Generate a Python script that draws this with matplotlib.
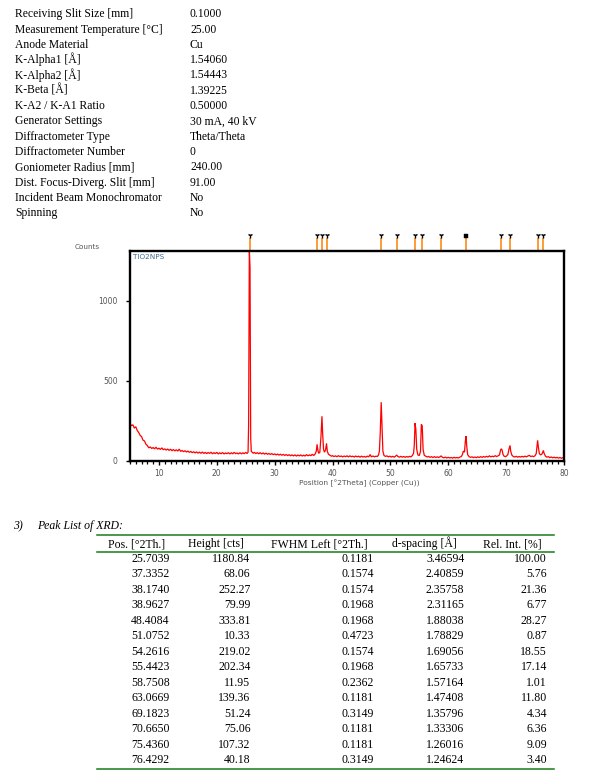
import matplotlib
matplotlib.use('Agg')
import matplotlib.pyplot as plt
from matplotlib.lines import Line2D
import matplotlib.transforms as mtransforms
from matplotlib.ticker import MultipleLocator

# ---------------- data ----------------
param_names = ["Receiving Slit Size [mm]", "Measurement Temperature [°C]", "Anode Material",
               "K-Alpha1 [Å]", "K-Alpha2 [Å]", "K-Beta [Å]", "K-A2 / K-A1 Ratio",
               "Generator Settings", "Diffractometer Type", "Diffractometer Number",
               "Goniometer Radius [mm]", "Dist. Focus-Diverg. Slit [mm]",
               "Incident Beam Monochromator", "Spinning"]
param_values = ["0.1000", "25.00", "Cu", "1.54060", "1.54443", "1.39225", "0.50000",
                "30 mA, 40 kV", "Theta/Theta", "0", "240.00", "91.00", "No", "No"]

table_headers = ["Pos. [°2Th.]", "Height [cts]", "FWHM Left [°2Th.]", "d-spacing [Å]", "Rel. Int. [%]"]
peak_pos = [25.7039, 37.3352, 38.1740, 38.9627, 48.4084, 51.0752, 54.2616, 55.4423,
            58.7508, 63.0669, 69.1823, 70.6650, 75.4360, 76.4292]
peak_height = [1180.84, 68.06, 252.27, 79.99, 333.81, 10.33, 219.02, 202.34,
               11.95, 139.36, 51.24, 75.06, 107.32, 40.18]
peak_fwhm = [0.1181, 0.1574, 0.1574, 0.1968, 0.1968, 0.4723, 0.1574, 0.1968,
             0.2362, 0.1181, 0.3149, 0.1181, 0.1181, 0.3149]
peak_d = [3.46594, 2.40859, 2.35758, 2.31165, 1.88038, 1.78829, 1.69056, 1.65733,
          1.57164, 1.47408, 1.35796, 1.33306, 1.26016, 1.24624]
peak_rel = [100.00, 5.76, 21.36, 6.77, 28.27, 0.87, 18.55, 17.14,
            1.01, 11.80, 4.34, 6.36, 9.09, 3.40]

scan_5_25 = [(5.00, 234), (5.25, 220), (5.50, 226), (5.75, 205), (6.00, 214), (6.25, 190),
             (6.50, 178), (6.75, 160), (7.00, 152), (7.25, 130), (7.50, 125), (7.75, 105),
             (8.00, 96), (8.25, 82), (8.50, 88), (8.75, 78), (9.00, 84), (9.25, 76),
             (9.50, 86), (9.75, 74), (10.00, 80), (10.25, 72), (10.50, 82), (10.75, 70),
             (11.00, 76), (11.25, 68), (11.50, 75), (11.75, 66), (12.00, 74), (12.25, 64),
             (12.50, 72), (12.75, 63), (13.00, 70), (13.25, 62), (13.50, 74), (13.75, 60),
             (14.00, 66), (14.25, 58), (14.50, 64), (14.75, 56), (15.00, 62), (15.25, 54),
             (15.50, 60), (15.75, 52), (16.00, 58), (16.25, 50), (16.50, 57), (16.75, 49),
             (17.00, 55), (17.25, 48), (17.50, 56), (17.75, 47), (18.00, 54), (18.25, 46),
             (18.50, 53), (18.75, 47), (19.00, 55), (19.25, 45), (19.50, 52), (19.75, 46),
             (20.00, 54), (20.25, 44), (20.50, 51), (20.75, 45), (21.00, 53), (21.25, 44),
             (21.50, 50), (21.75, 46), (22.00, 52), (22.25, 44), (22.50, 51), (22.75, 45),
             (23.00, 54), (23.25, 46), (23.50, 50), (23.75, 44), (24.00, 52), (24.25, 45),
             (24.50, 51), (24.75, 46), (25.00, 53), (25.25, 47)]
scan_25_40 = [(25.40, 55), (25.50, 225), (25.62, 1320), (25.74, 1210), (25.86, 140),
              (25.96, 60), (26.10, 55), (26.30, 48), (26.50, 54), (26.75, 46), (27.00, 52),
              (27.25, 45), (27.50, 52), (27.75, 44), (28.00, 50), (28.25, 43), (28.50, 49),
              (28.75, 42), (29.00, 47), (29.25, 41), (29.50, 46), (29.75, 40), (30.00, 44),
              (30.25, 38), (30.50, 43), (30.75, 37), (31.00, 42), (31.25, 36), (31.50, 41),
              (31.75, 35), (32.00, 40), (32.25, 34), (32.50, 39), (32.75, 33), (33.00, 38),
              (33.25, 32), (33.50, 38), (33.75, 31), (34.00, 37), (34.25, 32), (34.50, 38),
              (34.75, 31), (35.00, 36), (35.25, 31), (35.50, 40), (35.75, 32), (36.00, 38),
              (36.25, 33), (36.50, 42), (36.75, 34), (37.00, 44), (37.20, 62), (37.33, 104),
              (37.45, 70), (37.60, 48), (37.80, 54), (38.00, 150), (38.17, 279), (38.30, 166),
              (38.45, 72), (38.60, 55), (38.80, 70), (38.96, 110), (39.10, 60), (39.30, 42),
              (39.55, 36), (39.80, 30)]
scan_40_60 = [(40.00, 33), (40.25, 28), (40.50, 32), (40.75, 27), (41.00, 33), (41.25, 28),
              (41.50, 31), (41.75, 26), (42.00, 31), (42.25, 27), (42.50, 32), (42.75, 26),
              (43.00, 32), (43.25, 27), (43.50, 30), (43.75, 25), (44.00, 31), (44.25, 26),
              (44.50, 30), (44.75, 24), (45.00, 30), (45.25, 25), (45.50, 28), (45.75, 24),
              (46.00, 30), (46.25, 26), (46.50, 40), (46.70, 26), (47.00, 31), (47.25, 26),
              (47.50, 30), (47.75, 28), (47.95, 38), (48.10, 62), (48.25, 181), (48.41, 367),
              (48.55, 223), (48.70, 62), (48.90, 34), (49.15, 29), (49.40, 32), (49.65, 26),
              (49.90, 30), (50.15, 25), (50.40, 29), (50.65, 24), (50.90, 30), (51.07, 37),
              (51.30, 28), (51.55, 24), (51.80, 29), (52.05, 24), (52.30, 28), (52.55, 23),
              (52.80, 28), (53.05, 24), (53.30, 29), (53.55, 26), (53.80, 34), (54.00, 48),
              (54.12, 95), (54.26, 236), (54.40, 197), (54.55, 72), (54.75, 38), (55.00, 34),
              (55.20, 60), (55.35, 229), (55.50, 219), (55.65, 72), (55.85, 36), (56.10, 30),
              (56.35, 25), (56.60, 28), (56.85, 23), (57.10, 27), (57.35, 22), (57.60, 27),
              (57.85, 22), (58.10, 26), (58.35, 22), (58.60, 27), (58.75, 32), (59.00, 23),
              (59.25, 20), (59.50, 24), (59.75, 19)]
scan_60_80 = [(60.00, 23), (60.25, 19), (60.50, 22), (60.75, 18), (61.00, 23), (61.25, 19),
              (61.50, 22), (61.75, 19), (62.00, 24), (62.25, 28), (62.45, 40), (62.60, 62),
              (62.80, 55), (62.95, 123), (63.07, 155), (63.20, 90), (63.35, 40), (63.60, 27),
              (63.85, 23), (64.10, 26), (64.35, 21), (64.60, 25), (64.85, 21), (65.10, 26),
              (65.35, 22), (65.60, 27), (65.85, 23), (66.10, 28), (66.35, 24), (66.60, 29),
              (66.85, 25), (67.10, 32), (67.35, 26), (67.60, 30), (67.85, 27), (68.10, 33),
              (68.35, 28), (68.60, 32), (68.85, 38), (69.05, 70), (69.18, 76), (69.32, 66),
              (69.45, 42), (69.65, 30), (69.90, 27), (70.10, 32), (70.30, 40), (70.50, 76),
              (70.67, 97), (70.80, 60), (71.00, 36), (71.25, 28), (71.50, 25), (71.75, 29),
              (72.00, 24), (72.25, 28), (72.50, 25), (72.75, 29), (73.00, 25), (73.25, 30),
              (73.50, 26), (73.75, 31), (74.00, 35), (74.25, 28), (74.50, 31), (74.75, 27),
              (75.00, 33), (75.20, 46), (75.35, 95), (75.44, 129), (75.58, 83), (75.75, 46),
              (75.95, 38), (76.15, 42), (76.30, 52), (76.43, 66), (76.58, 46), (76.80, 30),
              (77.05, 24), (77.30, 27), (77.55, 21), (77.80, 25), (78.05, 20), (78.30, 24),
              (78.55, 19), (78.80, 23), (79.05, 18), (79.30, 22), (79.55, 17), (79.80, 21),
              (80.00, 19)]

# ---------------- figure ----------------
W, H = 609, 780
fig = plt.figure(figsize=(W / 100, H / 100), dpi=100)
fig.patch.set_facecolor('white')


def fx(px):
    return px / W


def fy(py):
    return 1 - py / H


SERIF = ['Liberation Serif', 'DejaVu Serif']

# parameter block
for i, (name, val) in enumerate(zip(param_names, param_values)):
    yb = 13.3 + 15.3 * i + 4.0
    fig.text(fx(15), fy(yb), name, fontsize=8.4, family=SERIF, va='baseline', ha='left')
    fig.text(fx(190), fy(yb), val, fontsize=8.4, family=SERIF, va='baseline', ha='left')

# ---------------- chart ----------------
ax = fig.add_axes([fx(130), fy(461), (564 - 130) / W, (461 - 251) / H])
scan = scan_5_25 + scan_25_40 + scan_40_60 + scan_60_80
tt = [p[0] for p in scan]
cc = [p[1] for p in scan]
ax.plot(tt, cc, color='#ff0000', lw=0.9, solid_joinstyle='miter')
ax.set_xlim(5, 80)
ax.set_ylim(0, 1310)

for s in ax.spines.values():
    s.set_linewidth(1.7)
    s.set_color('black')

ax.xaxis.set_major_locator(MultipleLocator(10))
ax.xaxis.set_minor_locator(MultipleLocator(1))
ax.set_yticks([0, 500, 1000])
ax.tick_params(axis='both', which='major', direction='out', length=3.0, width=1.0,
               colors='black', labelcolor='#555555', labelsize=5.5)
ax.tick_params(axis='x', which='minor', direction='out', length=2.2, width=0.9, color='black')
ax.tick_params(axis='x', which='major', pad=3)
ax.tick_params(axis='y', which='major', pad=6)
for lab in ax.get_xticklabels() + ax.get_yticklabels():
    lab.set_family('DejaVu Sans')

ax.text(0.006, 0.985, 'TIO2NPS', transform=ax.transAxes, va='top', ha='left',
        fontsize=5.2, color='#3f6a95', family='DejaVu Sans')

fig.text(fx(75), fy(246.7), 'Counts', va='center', ha='left', fontsize=5.2,
         color='#555555', family='DejaVu Sans')
fig.text(fx(359), fy(483.5), 'Position [°2Theta] (Copper (Cu))', va='center', ha='center',
         fontsize=5.4, color='#555555', family='DejaVu Sans')

# peak markers above the plot
trans = mtransforms.blended_transform_factory(ax.transData, ax.transAxes)
hpx = 461 - 251
for k, p in enumerate(peak_pos):
    ax.plot([p, p], [1.0, 1.0 + 13.5 / hpx], color='#ff8000', lw=1.1,
            transform=trans, clip_on=False, solid_capstyle='butt')
    mk = 's' if abs(p - 63.0669) < 1e-3 else '1'
    ax.plot([p], [1.0 + (15.5 if mk == 's' else 16.5) / hpx], marker=mk, color='black',
            ms=2.2 if mk == 's' else 4.2,
            mew=1.0 if mk != 's' else 0.3, transform=trans, clip_on=False, linestyle='none')

# ---------------- table ----------------
fig.text(fx(13), fy(525 + 4), '3)', fontsize=8.5, family=SERIF, style='italic', va='baseline')
fig.text(fx(37), fy(525 + 4), 'Peak List of XRD:', fontsize=8.5, family=SERIF,
         style='italic', va='baseline')

green = '#1a7a1a'
for yl in (535.3, 552.0, 769.3):
    fig.add_artist(Line2D([fx(97), fx(554)], [fy(yl), fy(yl)], color=green, lw=1.1,
                          transform=fig.transFigure))

head_x = [107.5, 188, 271, 392, 483]
for hx, ht in zip(head_x, table_headers):
    fig.text(fx(hx), fy(543.5 + 4), ht, fontsize=8.5, family=SERIF, va='baseline', ha='left')

right_x = [169.5, 250.5, 374, 464.5, 547]
fmts = ['{:.4f}', '{:.2f}', '{:.4f}', '{:.5f}', '{:.2f}']
cols = [peak_pos, peak_height, peak_fwhm, peak_d, peak_rel]
for i in range(len(peak_pos)):
    yb = 557.8 + 15.5 * i + 4.0
    for rx, fm, col in zip(right_x, fmts, cols):
        fig.text(fx(rx), fy(yb), fm.format(col[i]), fontsize=8.5, family=SERIF,
                 va='baseline', ha='right')

fig.savefig('out.png', dpi=100, facecolor='white')
